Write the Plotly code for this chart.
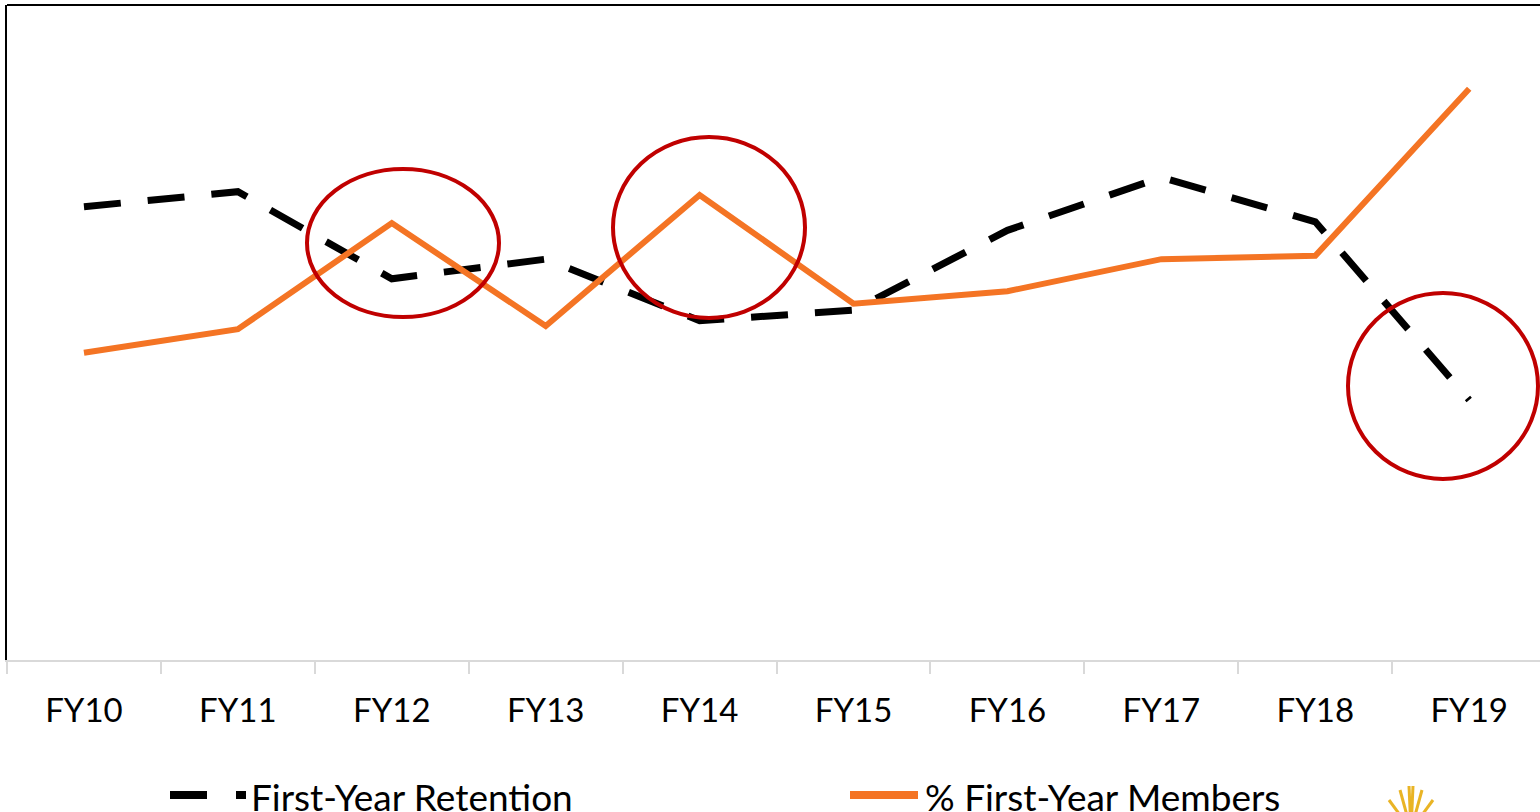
import plotly.graph_objects as go

W, H = 1540, 812
M_L, M_R, M_T, M_B = 7, 0, 5, 152

years = ["FY10", "FY11", "FY12", "FY13", "FY14", "FY15", "FY16", "FY17", "FY18", "FY19"]
retention = [69.2, 71.5, 58.2, 61.2, 51.8, 53.4, 65.6, 73.7, 66.9, 39.7]
first_year_pct = [46.9, 50.5, 66.7, 51.0, 71.0, 54.4, 56.3, 61.2, 61.7, 87.2]
series_names = ["First-Year Retention", "% First-Year Members"]

BLACK = "#000000"
ORANGE = "#F47424"
RED = "#C00000"
GOLD = "#E9B425"
FONT = "Lato, 'Open Sans', sans-serif"

PW = W - M_L - M_R
PH = H - M_T - M_B


def px_x(x):
    return (x - M_L) / PW


def px_y(y):
    return (H - M_B - y) / PH


fig = go.Figure()
fig.add_trace(go.Scatter(
    x=years, y=retention, mode="lines", name=series_names[0],
    line=dict(color=BLACK, width=7, dash="37px,27px"),
))
fig.add_trace(go.Scatter(
    x=years, y=first_year_pct, mode="lines", name=series_names[1],
    line=dict(color=ORANGE, width=6),
))

# highlight circles
circles = [(307, 169, 499, 317), (613, 137, 805, 318), (1348, 293, 1538, 479)]
for x0, y0, x1, y1 in circles:
    fig.add_shape(type="circle", xref="paper", yref="paper",
                  x0=px_x(x0), x1=px_x(x1), y0=px_y(y1), y1=px_y(y0),
                  line=dict(color=RED, width=4))

# top border of the plot area
fig.add_shape(type="line", xref="paper", yref="paper", x0=0, x1=1, y0=1, y1=1,
              line=dict(color=BLACK, width=2))

# manual legend at the bottom
ly = 795
fig.add_shape(type="line", xref="paper", yref="paper",
              x0=px_x(170), x1=px_x(207), y0=px_y(ly), y1=px_y(ly),
              line=dict(color=BLACK, width=8))
fig.add_shape(type="line", xref="paper", yref="paper",
              x0=px_x(236), x1=px_x(246), y0=px_y(ly), y1=px_y(ly),
              line=dict(color=BLACK, width=8))
fig.add_shape(type="line", xref="paper", yref="paper",
              x0=px_x(850), x1=px_x(918), y0=px_y(ly), y1=px_y(ly),
              line=dict(color=ORANGE, width=8))
for tx, name in [(249, series_names[0]), (923, series_names[1])]:
    fig.add_annotation(xref="paper", yref="paper", x=px_x(tx), y=px_y(796),
                       xanchor="left", yanchor="middle", showarrow=False,
                       text=name, font=dict(family=FONT, size=37, color=BLACK))

# small logo fan in the corner
base = (1411, 830)
tips = [(1389, 800), (1400, 790), (1409, 786), (1413, 786), (1422, 790), (1433, 800)]
for tx, ty in tips:
    fig.add_shape(type="line", xref="paper", yref="paper",
                  x0=px_x(base[0]), y0=px_y(base[1]), x1=px_x(tx), y1=px_y(ty),
                  line=dict(color=GOLD, width=3))

fig.update_layout(
    width=W, height=H,
    margin=dict(l=M_L, r=M_R, t=M_T, b=M_B),
    paper_bgcolor="white", plot_bgcolor="white",
    showlegend=False,
    font=dict(family=FONT, color=BLACK),
    xaxis=dict(
        type="category", range=[-0.5, 9.46],
        showgrid=False, zeroline=False,
        showline=True, linecolor="#D9D9D9", linewidth=2,
        ticks="outside", tickson="boundaries", ticklen=12, tickcolor="#D9D9D9", tickwidth=2,
        ticklabelstandoff=20,
        tickfont=dict(family=FONT, size=33, color=BLACK),
    ),
    yaxis=dict(
        range=[0, 100], showgrid=False, zeroline=False, showticklabels=False,
        showline=True, linecolor=BLACK, linewidth=2,
    ),
)

fig.write_html(
    "out.html",
    config={"displayModeBar": False},
    post_script="document.body.style.margin='0';document.body.style.overflow='hidden';",
)
